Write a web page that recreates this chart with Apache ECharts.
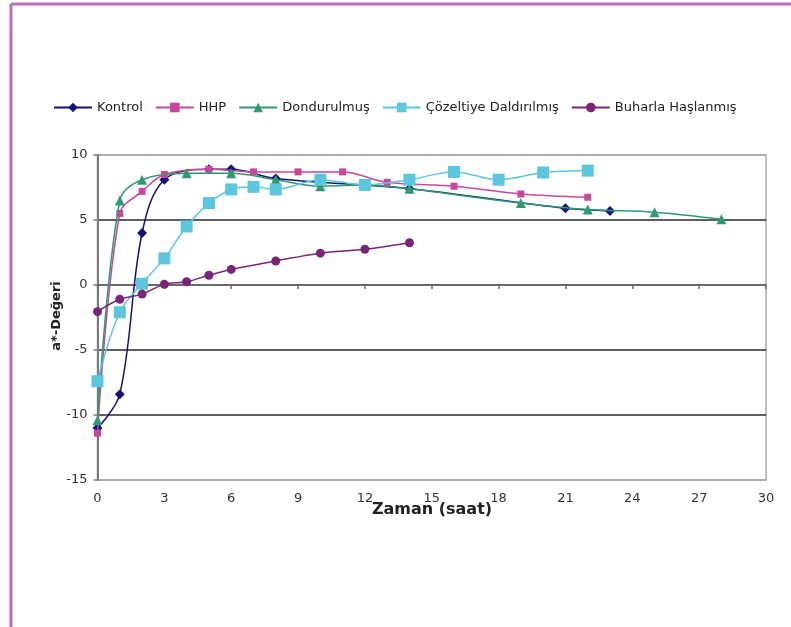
<!DOCTYPE html>
<html>
<head>
<meta charset="utf-8">
<script src="https://cdn.jsdelivr.net/npm/echarts@6/dist/echarts.min.js"></script>
<style>
  html, body { margin: 0; padding: 0; background: #ffffff; }
  #chart { width: 791px; height: 627px; }
</style>
</head>
<body>
<div id="chart"></div>
<script>
// a* değeri over time (hours) for five treatments
const seriesNames = ['Kontrol', 'HHP', 'Dondurulmuş', 'Çözeltiye Daldırılmış', 'Buharla Haşlanmış'];

const kontrolHours  = [0, 1, 2, 3, 5, 6, 8, 14, 21, 23];
const kontrolValues = [-11.0, -8.4, 4.0, 8.1, 8.9, 8.9, 8.2, 7.4, 5.9, 5.7];

const hhpHours  = [0, 1, 2, 3, 5, 7, 9, 11, 13, 16, 19, 22];
const hhpValues = [-11.4, 5.5, 7.2, 8.5, 8.9, 8.7, 8.7, 8.7, 7.9, 7.6, 7.0, 6.75];

const dondurulmusHours  = [0, 1, 2, 4, 6, 8, 10, 12, 14, 19, 22, 25, 28];
const dondurulmusValues = [-10.4, 6.5, 8.1, 8.6, 8.6, 8.1, 7.6, 7.7, 7.4, 6.3, 5.8, 5.6, 5.05];

const cozeltiyeHours  = [0, 1, 2, 3, 4, 5, 6, 7, 8, 10, 12, 14, 16, 18, 20, 22];
const cozeltiyeValues = [-7.4, -2.1, 0.1, 2.05, 4.5, 6.3, 7.35, 7.55, 7.35, 8.1, 7.7, 8.1, 8.7, 8.1, 8.65, 8.8];

const buharlaHours  = [0, 1, 2, 3, 4, 5, 6, 8, 10, 12, 14];
const buharlaValues = [-2.05, -1.1, -0.7, 0.05, 0.25, 0.75, 1.2, 1.85, 2.45, 2.75, 3.25];

const xTicks = { min: 0, max: 30, interval: 3 };
const yTicks = { min: -15, max: 10, interval: 5 };

const xTitle = 'Zaman (saat)';
const yTitle = 'a*-Değeri';

function pairs(hours, values) {
  return hours.map((h, i) => [h, values[i]]);
}

const FONT = 'DejaVu Sans';

const styles = [
  { color: '#12127a', symbol: 'diamond', size: 10, data: pairs(kontrolHours, kontrolValues) },
  { color: '#c8479a', symbol: 'rect', size: 7, data: pairs(hhpHours, hhpValues) },
  { color: '#2f9a72', symbol: 'triangle', size: 10, data: pairs(dondurulmusHours, dondurulmusValues) },
  { color: '#5cc6df', symbol: 'rect', size: 12, data: pairs(cozeltiyeHours, cozeltiyeValues) },
  { color: '#7a2478', symbol: 'circle', size: 9, data: pairs(buharlaHours, buharlaValues) }
];

const chart = echarts.init(document.getElementById('chart'), null, { renderer: 'canvas' });

chart.setOption({
  backgroundColor: '#ffffff',
  animation: false,
  textStyle: { fontFamily: FONT },
  graphic: [
    // chart frame (top and left edges)
    { type: 'line', shape: { x1: 11, y1: 4, x2: 800, y2: 4 }, style: { stroke: '#c06cb4', lineWidth: 3 } },
    { type: 'line', shape: { x1: 11, y1: 4, x2: 11, y2: 640 }, style: { stroke: '#c06cb4', lineWidth: 3 } },
    // axis titles
    {
      type: 'text', x: 432, y: 510,
      style: { text: xTitle, fontFamily: FONT, fontWeight: 'bold', fontSize: 16, fill: '#222', align: 'center', verticalAlign: 'middle' }
    },
    {
      type: 'text', x: 57, y: 316, rotation: Math.PI / 2,
      style: { text: yTitle, fontFamily: FONT, fontWeight: 'bold', fontSize: 13, fill: '#222', align: 'center', verticalAlign: 'middle' }
    }
  ],
  legend: {
    left: 48,
    top: 96,
    itemWidth: 38,
    itemHeight: 12,
    itemGap: 12,
    textStyle: { fontFamily: FONT, fontSize: 13, color: '#222' },
    data: seriesNames
  },
  grid: {
    left: 97.5,
    top: 155,
    width: 668.5,
    height: 325,
    outerBoundsMode: 'none',
    containLabel: false,
    show: true,
    borderColor: '#a8a8a8',
    borderWidth: 1.5,
    backgroundColor: 'transparent'
  },
  xAxis: {
    type: 'value',
    min: xTicks.min,
    max: xTicks.max,
    interval: xTicks.interval,
    axisLine: { onZero: true, lineStyle: { color: '#6a6a6a', width: 2 } },
    axisTick: { show: true, inside: false, length: 4, lineStyle: { color: '#6a6a6a', width: 1.5 } },
    axisLabel: { margin: 12, fontSize: 13, color: '#333', fontFamily: FONT },
    splitLine: { show: false }
  },
  yAxis: {
    type: 'value',
    min: yTicks.min,
    max: yTicks.max,
    interval: yTicks.interval,
    axisLine: { show: true, lineStyle: { color: '#7a7a7a', width: 2 } },
    axisTick: { show: true, length: 4, lineStyle: { color: '#7a7a7a', width: 1.5 } },
    axisLabel: { margin: 10, fontSize: 13, color: '#333', fontFamily: FONT },
    splitLine: {
      show: true,
      lineStyle: { color: ['#a8a8a8', '#2a2a2a', '#2a2a2a', 'rgba(0,0,0,0)', '#2a2a2a', '#a8a8a8'], width: 1.5 }
    }
  },
  series: styles.map((s, i) => ({
    name: seriesNames[i],
    type: 'line',
    data: s.data,
    smooth: 0.35,
    symbol: s.symbol,
    symbolSize: s.size,
    showAllSymbol: true,
    itemStyle: { color: s.color },
    lineStyle: { color: s.color, width: 1.5 },
    z: 2 + i
  }))
});
</script>
</body>
</html>
